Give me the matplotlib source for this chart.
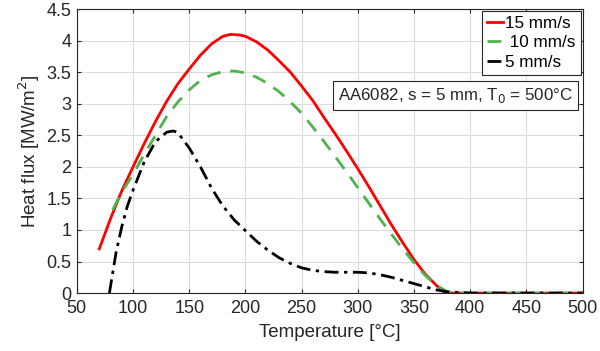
import matplotlib

matplotlib.use("Agg")
import matplotlib.pyplot as plt

plt.rcParams["font.family"] = ["Liberation Sans", "DejaVu Sans"]

# Heat flux vs. temperature for three withdrawal speeds
t_15 = [70, 80, 90, 100, 110, 120, 130, 140, 150, 160, 170, 180, 187, 195, 200, 210, 220,
        230, 240, 250, 260, 270, 280, 290, 300, 310, 320, 330, 340, 350, 360, 370, 378, 500]
q_15 = [0.70, 1.18, 1.62, 2.00, 2.37, 2.72, 3.04, 3.32, 3.55, 3.77, 3.95, 4.07, 4.10, 4.09,
        4.07, 3.98, 3.85, 3.68, 3.50, 3.28, 3.05, 2.78, 2.52, 2.25, 1.97, 1.68, 1.38, 1.08,
        0.80, 0.53, 0.30, 0.12, 0.0, 0.0]

t_10 = [82, 90, 100, 110, 120, 130, 140, 150, 160, 170, 180, 190, 200, 210, 220, 230, 240,
        250, 260, 270, 280, 290, 300, 310, 320, 330, 340, 350, 360, 370, 380, 390, 500]
q_10 = [1.32, 1.60, 1.88, 2.20, 2.50, 2.80, 3.03, 3.22, 3.37, 3.46, 3.51, 3.52, 3.49, 3.42,
        3.32, 3.19, 3.03, 2.85, 2.63, 2.40, 2.16, 1.92, 1.67, 1.42, 1.17, 0.93, 0.70, 0.48,
        0.28, 0.12, 0.02, 0.0, 0.0]

t_5 = [79, 85, 90, 95, 100, 110, 120, 130, 136, 140, 150, 160, 170, 180, 190, 200, 210, 220,
       230, 240, 250, 260, 270, 280, 290, 300, 310, 320, 330, 340, 350, 360, 370, 380, 390,
       400, 500]
q_5 = [0.0, 0.65, 1.05, 1.38, 1.63, 2.08, 2.40, 2.55, 2.57, 2.54, 2.30, 2.00, 1.66, 1.38,
       1.16, 0.99, 0.82, 0.68, 0.56, 0.47, 0.40, 0.36, 0.34, 0.33, 0.33, 0.33, 0.32, 0.29,
       0.25, 0.20, 0.15, 0.10, 0.05, 0.02, 0.01, 0.0, 0.0]

xticks = list(range(50, 501, 50))
yticks = [0, 0.5, 1, 1.5, 2, 2.5, 3, 3.5, 4, 4.5]
ytick_labels = ["0", "0.5", "1", "1.5", "2", "2.5", "3", "3.5", "4", "4.5"]

_INK = "#262626"

fig = plt.figure(figsize=(6, 3.51), dpi=100)
ax = fig.add_axes([0.128, 0.165, 0.843, 0.809])

ax.plot(t_15, q_15, "-", color="#ff0000", linewidth=2.0, label="15 mm/s", zorder=3)
ax.plot(t_10, q_10, "--", color="#4db34d", linewidth=2.0, dashes=(5, 3.5),
        label=" 10 mm/s", zorder=4)
ax.plot(t_5, q_5, "-.", color="#000000", linewidth=2.0, dashes=(5, 2, 1.2, 2),
        label="5 mm/s", zorder=5)

ax.set_xlim(50, 500)
ax.set_ylim(0, 4.5)
ax.set_xticks(xticks)
ax.set_yticks(yticks)
ax.set_yticklabels(ytick_labels)
ax.tick_params(direction="in", length=3, labelsize=13, colors=_INK,
               top=True, right=True)
ax.tick_params(axis="x", pad=5)
ax.tick_params(axis="y", pad=4)
ax.grid(True, color="#dcdcdc", linewidth=0.8)
ax.set_axisbelow(True)
for sp in ax.spines.values():
    sp.set_color(_INK)
    sp.set_linewidth(0.8)

ax.set_xlabel("Temperature [°C]", fontsize=13.5, color=_INK, labelpad=5)
ax.set_ylabel("Heat flux [MW/m$^2$]", fontsize=13.5, color=_INK, labelpad=3)

leg = ax.legend(loc="upper right", fontsize=12.3, handlelength=0.9, handletextpad=0.15,
                borderpad=0.3, labelspacing=0.25, borderaxespad=0.1, fancybox=False,
                framealpha=1, edgecolor=_INK)
leg.get_frame().set_linewidth(0.8)

ax.text(0.98, 0.728, "AA6082, s = 5 mm, T$_0$ = 500°C", transform=ax.transAxes,
        ha="right", va="top", fontsize=12.2, color=_INK,
        bbox=dict(boxstyle="square,pad=0.3", facecolor="white", edgecolor=_INK,
                  linewidth=0.8))

fig.savefig("out.png", dpi=100, facecolor="white")
